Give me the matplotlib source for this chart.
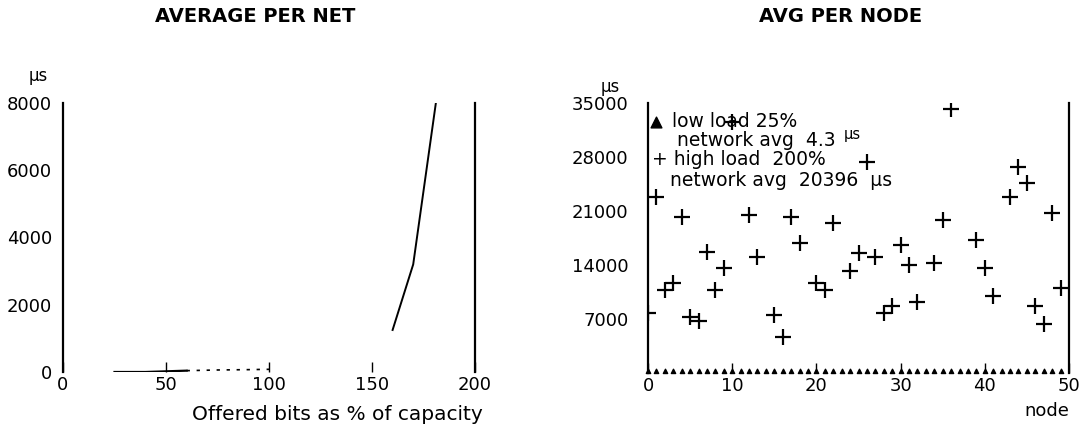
import matplotlib.pyplot as plt
from matplotlib.path import Path
import numpy as np

plt.rcParams['font.family'] = ['DejaVu Sans']

# ---- left panel: average delay per net vs offered load ----
low_load_pct = [25, 40, 50, 60]
low_load_delay = [0, 0, 20, 40]
low_tail_pct = [60, 75, 90, 100]
low_tail_delay = [40, 60, 70, 80]
high_load_pct = [160, 170, 181]
high_load_delay = [1250, 3200, 8000]

# ---- right panel: average delay per node ----
nodes_low = list(range(50))
delay_low = [4.3] * 50
nodes_high = [0, 1, 2, 3, 4, 5, 6, 7, 8, 9, 10, 12, 13, 15, 16, 17, 18, 20,
              21, 22, 24, 25, 26, 27, 28, 29, 30, 31, 32, 34, 35, 36, 39, 40,
              41, 43, 44, 45, 46, 47, 48, 49]
delay_high = [7800, 22850, 10700, 11700, 20260, 7300, 6700, 15700, 10760,
              13570, 32500, 20480, 15080, 7520, 4700, 20260, 16800, 11630,
              10760, 19400, 13270, 15600, 27400, 15080, 7740, 8690, 16600,
              14000, 9240, 14300, 19830, 34180, 17240, 13570, 10020, 22860,
              26670, 24670, 8690, 6350, 20780, 10980]

W, H = 1088, 438
fig = plt.figure(figsize=(W / 100, H / 100), dpi=100)
ax1 = fig.add_axes([63 / W, 66 / H, 412 / W, 269 / H])
ax2 = fig.add_axes([648 / W, 65 / H, 421 / W, 270 / H])

for ax in (ax1, ax2):
    ax.spines['top'].set_visible(False)
    ax.spines['bottom'].set_visible(False)
    ax.spines['left'].set_linewidth(1.6)
    ax.spines['right'].set_linewidth(1.6)
    ax.tick_params(axis='y', length=0, labelsize=13, pad=8)
    ax.tick_params(axis='x', direction='in', length=7, width=1,
                   labelsize=13, pad=3)
ax2.tick_params(axis='y', pad=14)

# left panel
ax1.plot(low_load_pct, low_load_delay, color='black', lw=1.6)
ax1.plot(low_tail_pct, low_tail_delay, color='black', lw=1.2, ls=(0, (2, 4)))
ax1.plot(high_load_pct, high_load_delay, color='black', lw=1.4)
ax1.set_xlim(0, 200)
ax1.set_ylim(0, 8000)
ax1.set_xticks([0, 50, 100, 150, 200])
ax1.set_yticks([0, 2000, 4000, 6000, 8000])
fig.text(483 / W, 1 - 415 / H, 'Offered bits as % of capacity',
         fontsize=14.5, ha='right', va='center')
ax1.text(-0.06, 1.1, 'µs', transform=ax1.transAxes, fontsize=12,
         ha='center', va='center')
fig.text(255 / W, 1 - 17 / H, 'AVERAGE PER NET', fontsize=14,
         fontweight='bold', ha='center', va='center')

# right panel: triangle marker sitting on its base
tri = Path([(-1, 0), (1, 0), (0, 2), (-1, 0)],
           [Path.MOVETO, Path.LINETO, Path.LINETO, Path.CLOSEPOLY])
ax2.scatter(nodes_low, delay_low, marker=tri, s=38, color='black',
            zorder=3, clip_on=False)
ax2.scatter(nodes_high, delay_high, marker='+', s=140, color='black',
            linewidths=1.6, zorder=3)
ax2.set_xlim(0, 50)
ax2.set_ylim(0, 35000)
ax2.set_xticks([0, 10, 20, 30, 40, 50])
ax2.set_yticks([7000, 14000, 21000, 28000, 35000])
ax2.set_xlabel('node', fontsize=13, loc='right', labelpad=5)
ax2.text(-0.09, 1.06, 'µs', transform=ax2.transAxes, fontsize=12,
         ha='center', va='center')
fig.text(841 / W, 1 - 17 / H, 'AVG PER NODE', fontsize=14,
         fontweight='bold', ha='center', va='center')

# in-plot key
ax2.scatter([0.9], [32500], marker='^', s=60, color='black')
ax2.text(2.8, 32600, 'low load 25%', fontsize=13.5, va='center')
ax2.text(3.4, 30200, 'network avg  4.3', fontsize=13.5, va='center')
ax2.text(23.2, 30900, 'µs', fontsize=10.5, va='center')
ax2.text(0.5, 27700, '+ high load  200%', fontsize=13.5, va='center')
ax2.text(2.6, 25000, 'network avg  20396  µs', fontsize=13.5, va='center')

fig.savefig('out.png', dpi=100, facecolor='white')
